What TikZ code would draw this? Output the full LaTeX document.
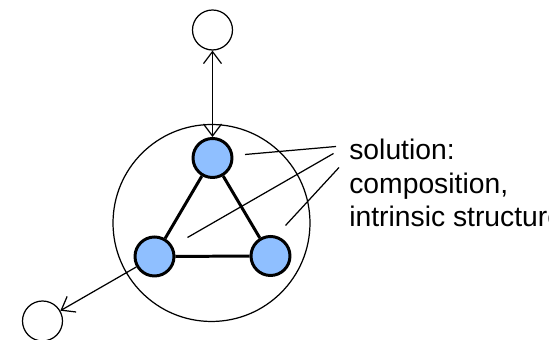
\documentclass[tikz,border=0pt]{standalone}
\usepackage{fontspec}
\setmainfont{Liberation Sans}
\usetikzlibrary{arrows.meta}
\definecolor{partblue}{RGB}{143,191,255}
\tikzset{
  part/.style={circle, draw, line width=1.7pt, fill=partblue, minimum size=0.78cm, inner sep=0pt},
  env/.style={circle, draw, line width=0.7pt, minimum size=0.8cm, inner sep=0pt},
  bond/.style={line width=1.7pt},
  link/.style={line width=0.7pt},
  barb/.style={line width=0.7pt, arrows={-Straight Barb[length=0.24cm, width=0.36cm]}}
}
\begin{document}
\begin{tikzpicture}[x=0.02cm, y=-0.02cm]
    \useasboundingbox (0,0) rectangle (549,340);
    % whole system
    \node[circle, draw, line width=0.7pt, minimum size=3.94cm, inner sep=0pt] (sys) at (211.5,223) {};
    % parts
    \node[part] (top) at (212.5,158) {};
    \node[part] (left) at (154.5,256.5) {};
    \node[part] (right) at (270.5,256) {};
    \draw[bond] (top) -- (left);
    \draw[bond] (left) -- (right);
    \draw[bond] (right) -- (top);
    % environment
    \node[env] (envtop) at (212.5,30) {};
    \node[env] (envleft) at (42.5,321) {};
    \draw[barb, arrows={Straight Barb[length=0.24cm, width=0.36cm]-Straight Barb[length=0.24cm, width=0.36cm]}] (envtop) -- (top);
    \draw[barb] (left) -- (envleft);
    % label
    \node[anchor=base west, inner sep=0pt, align=left, font=\fontsize{16.1}{19.3}\selectfont] (sol) at (349,227)
      {solution:\\composition,\\intrinsic structure};
    \coordinate (p1) at (245,154.5);
    \coordinate (q1) at (336,146.5);
    \coordinate (p2) at (187.5,237.5);
    \coordinate (q2) at (333.5,153.5);
    \coordinate (p3) at (285.5,225.5);
    \coordinate (q3) at (339,167.5);
    \draw[link] (p1) -- (q1);
    \draw[link] (p2) -- (q2);
    \draw[link] (p3) -- (q3);
  \end{tikzpicture}
\end{document}
